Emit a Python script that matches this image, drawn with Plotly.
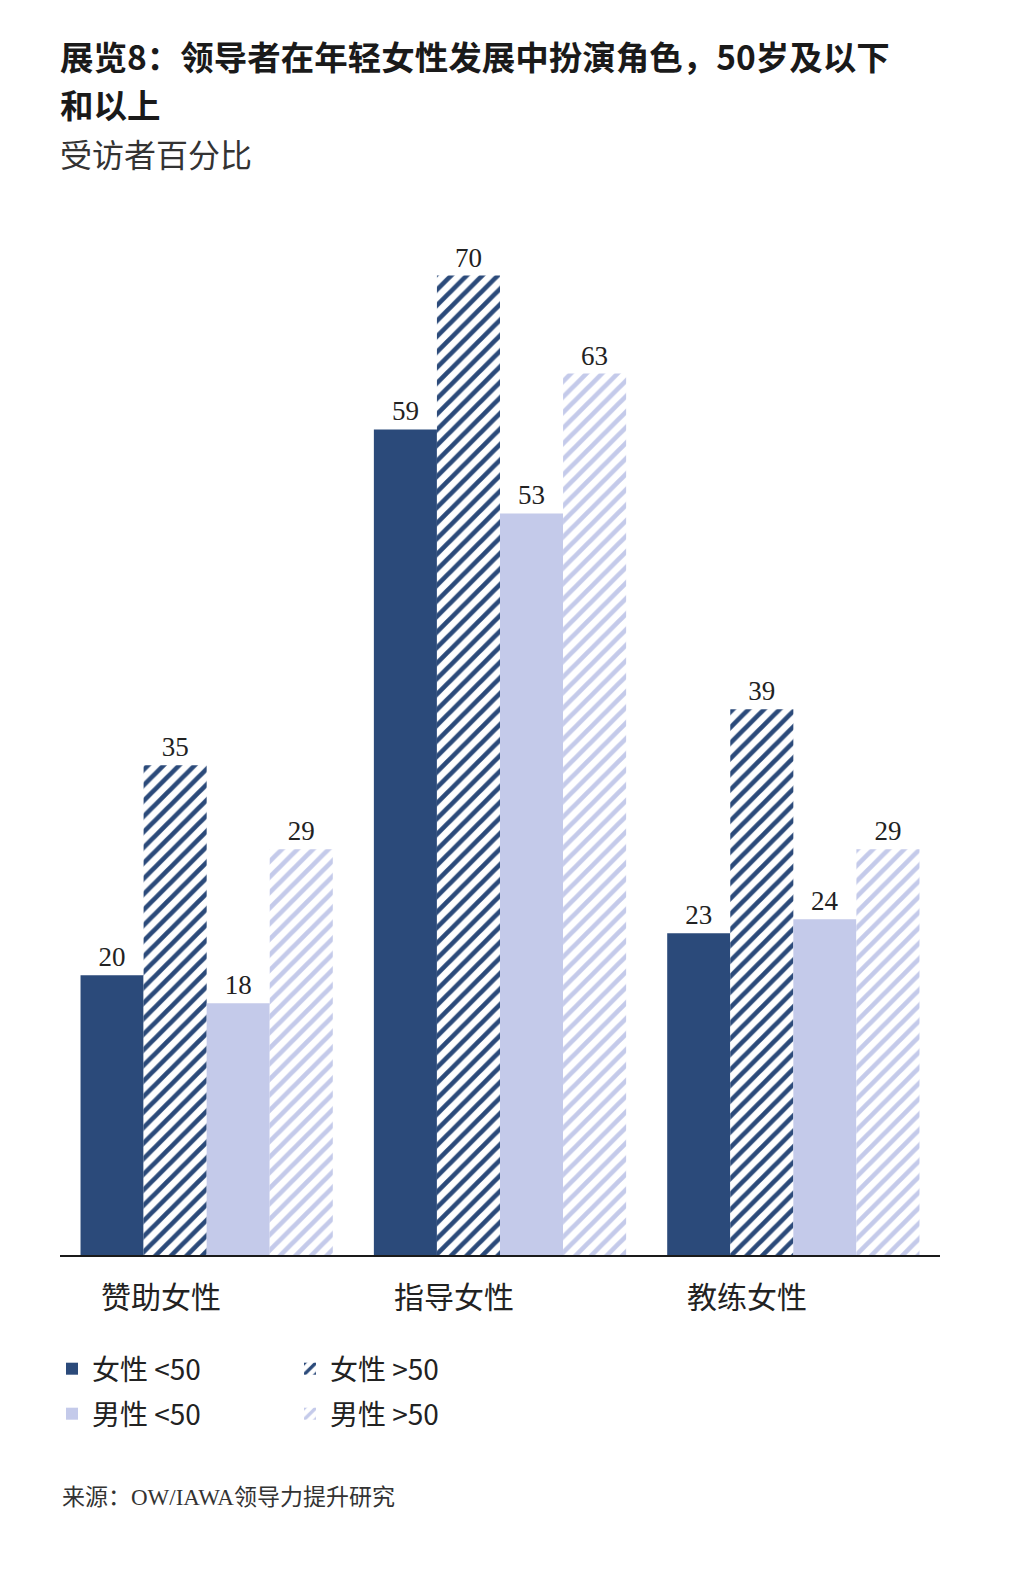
import plotly.graph_objects as go

categories = ["赞助女性", "指导女性", "教练女性"]
series_names = ["女性 <50", "女性 >50", "男性 <50", "男性 >50"]
female_under50 = [20, 59, 23]
female_over50 = [35, 70, 39]
male_under50 = [18, 53, 24]
male_over50 = [29, 63, 29]

DARK = "#2B4A7A"
LIGHT = "#C4CAEA"
SERIF = "Liberation Serif, Noto Sans CJK SC, serif"
SANS = "Noto Sans CJK SC, Noto Sans, sans-serif"

W, H = 1013, 1575
L, R, T, B = 60, 73, 200, 320
PW, PH = W - L - R, H - T - B

series = [
    (series_names[0], female_under50, DARK, "", "legend"),
    (series_names[1], female_over50, DARK, "/", "legend"),
    (series_names[2], male_under50, LIGHT, "", "legend2"),
    (series_names[3], male_over50, LIGHT, "/", "legend2"),
]

fig = go.Figure()
for name, vals, color, shape, leg in series:
    if shape:
        marker = dict(color="white", line=dict(width=0),
                      pattern=dict(shape=shape, fgcolor=color, bgcolor="white",
                                   fgopacity=1, size=11, solidity=0.42,
                                   fillmode="replace"))
    else:
        marker = dict(color=color, line=dict(width=0))
    fig.add_trace(go.Bar(
        x=categories, y=vals, name=name, marker=marker,
        text=[str(v) for v in vals], textposition="outside",
        textfont=dict(family=SERIF, size=27, color="#222222"),
        cliponaxis=False, legend=leg,
    ))

legend_common = dict(orientation="h", x=-8 / PW, xanchor="left", yref="container",
                     yanchor="middle", entrywidth=193, entrywidthmode="pixels",
                     font=dict(family=SANS, size=28, color="#222222"),
                     itemwidth=30, tracegroupgap=0, bgcolor="rgba(0,0,0,0)")

fig.update_layout(
    width=W, height=H,
    margin=dict(l=L, r=R, t=T, b=B),
    paper_bgcolor="white", plot_bgcolor="white",
    barmode="group", bargap=0.14, bargroupgap=0,
    showlegend=True,
    legend=dict(legend_common, y=1 - 1369 / H),
    legend2=dict(legend_common, y=1 - 1414 / H),
    xaxis=dict(showline=True, linecolor="#1a1a1a", linewidth=2, showgrid=False,
               ticks="", showticklabels=False),
    yaxis=dict(range=[0, 75.4], visible=False, showgrid=False, zeroline=False),
)

def px_ann(text, px, py, font):
    return dict(text=text, showarrow=False, xref="paper", yref="paper",
                x=(px - L) / PW, y=1 - (py - T) / PH,
                xanchor="left", yanchor="middle", font=font)

anns = [
    px_ann("<b>展览8：领导者在年轻女性发展中扮演角色，50岁及以下</b>", 58, 56,
           dict(family=SANS, size=33.5, color="#1a1a1a")),
    px_ann("<b>和以上</b>", 58, 104, dict(family=SANS, size=33.5, color="#1a1a1a")),
    px_ann("受访者百分比", 58, 153, dict(family=SANS, size=32, color="#333333")),
    px_ann("来源：OW/IAWA领导力提升研究", 60, 1497,
           dict(family=SERIF, size=23, color="#333333")),
]
for c in categories:
    anns.append(dict(text=c, x=c, xref="x", y=0, yref="y", yanchor="top",
                     yshift=-16, xshift=-46, showarrow=False,
                     font=dict(family=SANS, size=30, color="#222222")))
fig.update_layout(annotations=anns)

fig.write_html("out.html")
